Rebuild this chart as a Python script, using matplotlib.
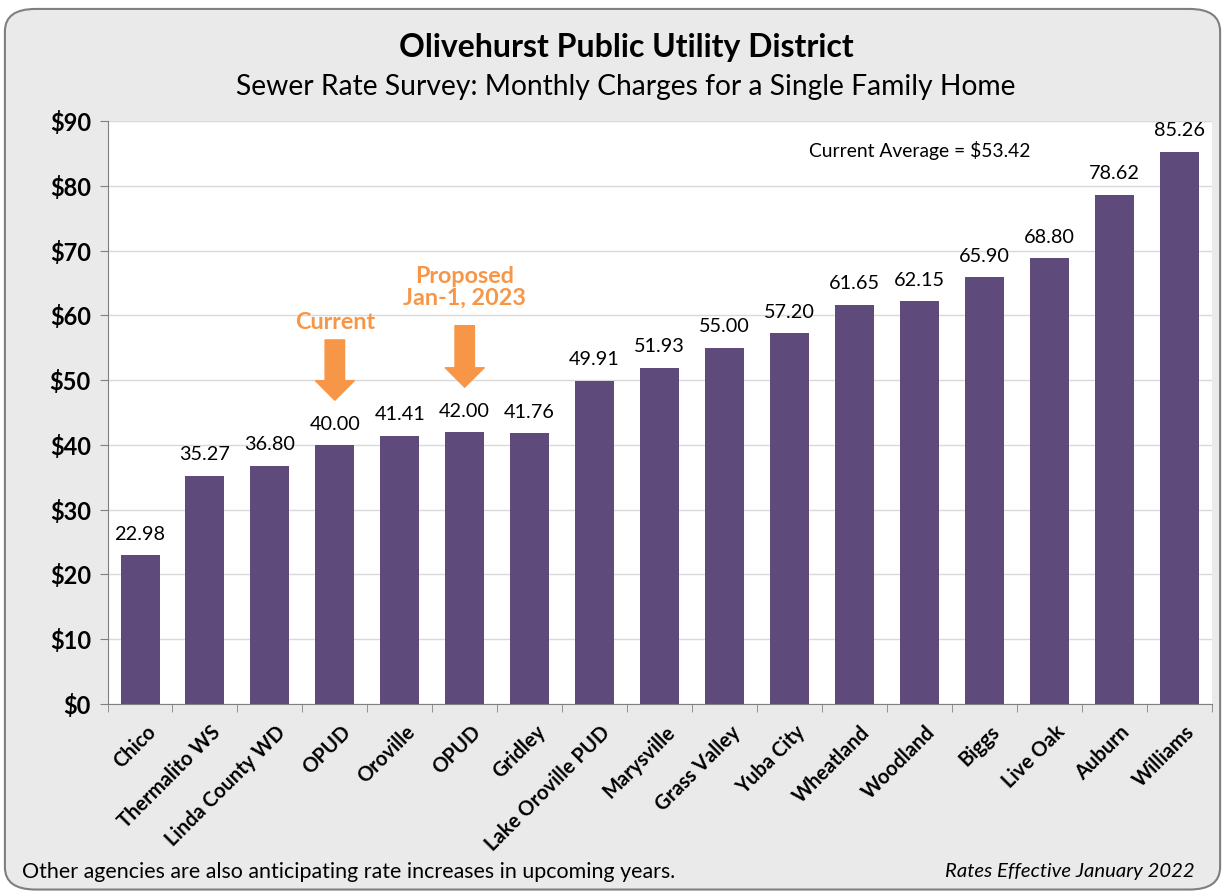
import matplotlib
matplotlib.use("Agg")
from matplotlib import pyplot as plt
from matplotlib.patches import FancyBboxPatch
from matplotlib.ticker import FixedLocator
import matplotlib.transforms as mtransforms

plt.rcParams['font.family'] = ['Lato', 'DejaVu Sans']

agencies = ["Chico", "Thermalito WS", "Linda County WD", "OPUD", "Oroville", "OPUD",
            "Gridley", "Lake Oroville PUD", "Marysville", "Grass Valley", "Yuba City",
            "Wheatland", "Woodland", "Biggs", "Live Oak", "Auburn", "Williams"]
charges = [22.98, 35.27, 36.80, 40.00, 41.41, 42.00, 41.76, 49.91, 51.93, 55.00,
           57.20, 61.65, 62.15, 65.90, 68.80, 78.62, 85.26]
yticks = [0, 10, 20, 30, 40, 50, 60, 70, 80, 90]
avg_text = "Current Average = $53.42"

bar_color = "#5F4B7B"
orange = "#F79646"

fig = plt.figure(figsize=(12.25, 8.94), dpi=100)
fig.patch.set_facecolor("white")

# rounded grey frame behind everything
frame = FancyBboxPatch((0.004, 0.005), 0.992, 0.985,
                       boxstyle="round,pad=0,rounding_size=0.025",
                       transform=fig.transFigure, facecolor="#EAEAEA",
                       edgecolor="#7F7F7F", linewidth=1.5, zorder=-10)
fig.patches.append(frame)

ax = fig.add_axes([0.0878, 0.2125, 0.9012, 0.6522])
ax.set_facecolor("white")

x = list(range(len(agencies)))
bars = ax.bar(x, charges, width=0.6, color=bar_color, zorder=3)

for xi, v in zip(x, charges):
    ax.text(xi, v + 1.9, f"{v:.2f}", ha="center", va="bottom", fontsize=14.3, color="black")

ax.set_xlim(-0.5, len(agencies) - 0.5)
ax.set_ylim(0, 90)
ax.set_yticks(yticks)
ax.set_yticklabels([f"${t}" for t in yticks], fontsize=17, fontweight="bold")
ax.yaxis.grid(True, color="#D9D9D9", linewidth=1, zorder=0)

ax.set_xticks(x)
ax.set_xticklabels(agencies, rotation=45, ha="right", rotation_mode="anchor",
                   fontsize=14.5, fontweight="bold")
ax.tick_params(axis="x", which="major", length=0, pad=13)
ax.xaxis.set_minor_locator(FixedLocator([i - 0.5 for i in range(len(agencies) + 1)]))
ax.tick_params(axis="x", which="minor", length=6, color="#808080", direction="out")
ax.tick_params(axis="y", length=6, color="#808080", direction="out", pad=6)

# nudge the rotated labels a little to the right
shift = mtransforms.ScaledTranslation(4 / 72, 0, fig.dpi_scale_trans)
for lbl in ax.get_xticklabels():
    lbl.set_transform(lbl.get_transform() + shift)

for s in ["top", "right"]:
    ax.spines[s].set_visible(False)
for s in ["left", "bottom"]:
    ax.spines[s].set_color("#808080")

# arrows for OPUD current / proposed
arrow_style = "simple,head_width=2.0,head_length=1.0,tail_width=1.0"
ax.annotate("", xy=(3, 46.9), xytext=(3, 56.2),
            arrowprops=dict(arrowstyle=arrow_style, mutation_scale=14, color=orange,
                            shrinkA=0, shrinkB=0), zorder=5)
ax.annotate("", xy=(5, 48.9), xytext=(5, 58.4),
            arrowprops=dict(arrowstyle=arrow_style, mutation_scale=14, color=orange,
                            shrinkA=0, shrinkB=0), zorder=5)
ax.text(3, 58.9, "Current", ha="center", va="center", fontsize=16.8, fontweight="bold", color=orange)
ax.text(5, 64.3, "Proposed\nJan-1, 2023", ha="center", va="center", fontsize=16.8,
        fontweight="bold", color=orange, linespacing=1.05)

ax.text(12.0, 85.4, avg_text, ha="center", va="center", fontsize=13.9)

fig.text(0.511, 0.947, "Olivehurst Public Utility District", ha="center", va="center",
         fontsize=23, fontweight="bold")
fig.text(0.511, 0.903, "Sewer Rate Survey: Monthly Charges for a Single Family Home",
         ha="center", va="center", fontsize=20.3)
fig.text(0.018, 0.025, "Other agencies are also anticipating rate increases in upcoming years.",
         ha="left", va="center", fontsize=15.4)
fig.text(0.9755, 0.025, "Rates Effective January 2022", ha="right", va="center",
         fontsize=14.6, style="italic")

fig.savefig("out.png", dpi=100, facecolor=fig.get_facecolor())
